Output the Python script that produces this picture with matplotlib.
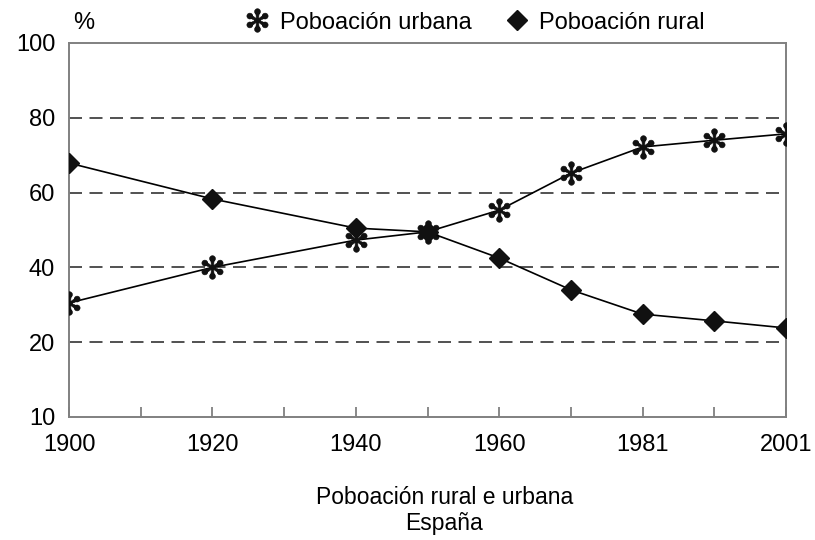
import numpy as np
import matplotlib
matplotlib.use("Agg")
import matplotlib.pyplot as plt
from matplotlib.lines import Line2D
from matplotlib.path import Path

plt.rcParams["font.family"] = ["Liberation Sans", "DejaVu Sans"]

# slots on the x axis (one per decade, as in the original)
slots = ["1900", "1910", "1920", "1930", "1940", "1950", "1960", "1970", "1981", "1991", "2001"]
tick_labels = ["1900", "", "1920", "", "1940", "", "1960", "", "1981", "", "2001"]

years = ["1900", "1920", "1940", "1950", "1960", "1970", "1981", "1991", "2001"]
urbana = [30.5, 40.0, 47.3, 49.5, 55.3, 65.2, 72.2, 74.0, 75.7]
rural = [67.9, 58.3, 50.5, 49.5, 42.5, 34.0, 27.5, 25.7, 23.8]

y_ticks = [0, 20, 40, 60, 80, 100]
y_tick_labels = ["10", "20", "40", "60", "80", "100"]

GRAY = "#808080"
FS = 17


def asterisk_marker():
    # six spokes with round tips, like the asterisk of the original
    parts = []
    for k in range(6):
        a = np.pi / 2 + k * np.pi / 3
        rot = np.array([[np.cos(a), -np.sin(a)], [np.sin(a), np.cos(a)]])
        taper = np.array([[0.0, -0.08], [0.72, -0.15], [0.72, 0.15], [0.0, 0.08], [0.0, -0.08]])
        parts.append(Path(taper @ rot.T, closed=True))
        t = np.linspace(0, 2 * np.pi, 25)
        circ = np.column_stack([0.75 + 0.25 * np.cos(t), 0.25 * np.sin(t)])
        parts.append(Path(circ @ rot.T, closed=True))
    return Path.make_compound_path(*parts)


STAR = asterisk_marker()

fig = plt.figure(figsize=(8.15, 5.4), dpi=100)
ax = fig.add_axes([0.0847, 0.2278, 0.8797, 0.6926])

x = [slots.index(y) for y in years]

for v in [20, 40, 60, 80]:
    ax.axhline(v, color="#333333", lw=1.2, ls=(0, (7.8, 4.5)), zorder=1)

ax.plot(x, urbana, color="black", lw=1.2, marker=STAR, ms=17, mew=0.4,
        mfc="#111111", mec="#111111", zorder=3)
ax.plot(x, rural, color="black", lw=1.2, marker="D", ms=10.5, mfc="#111111",
        mec="#111111", zorder=3)

ax.set_xlim(0, len(slots) - 1)
ax.set_ylim(0, 100)
ax.set_xticks(range(len(slots)))
ax.set_xticklabels(tick_labels, fontsize=FS)
ax.set_yticks(y_ticks)
ax.set_yticklabels(y_tick_labels, fontsize=FS)
ax.tick_params(axis="x", direction="in", length=7, width=1.3, color=GRAY, pad=12)
ax.tick_params(axis="y", length=0, pad=10)
for s in ax.spines.values():
    s.set_color(GRAY)
    s.set_linewidth(1.4)

handles = [
    Line2D([], [], ls="none", marker=STAR, ms=17, mew=0.4, color="#111111"),
    Line2D([], [], ls="none", marker="D", ms=10, color="#111111"),
]
fig.legend(handles, ["Poboación urbana", "Poboación rural"], loc="center",
           bbox_to_anchor=(0.583, 0.958), ncol=2, frameon=False, fontsize=FS,
           handletextpad=0.45, columnspacing=1.4, handlelength=1.0)

fig.text(0.103, 0.957, "%", fontsize=FS, ha="center", va="center")
fig.text(0.545, 0.078, "Poboación rural e urbana", fontsize=16.5, ha="center", va="center")
fig.text(0.545, 0.030, "España", fontsize=16.5, ha="center", va="center")

fig.savefig("out.png", dpi=100)
